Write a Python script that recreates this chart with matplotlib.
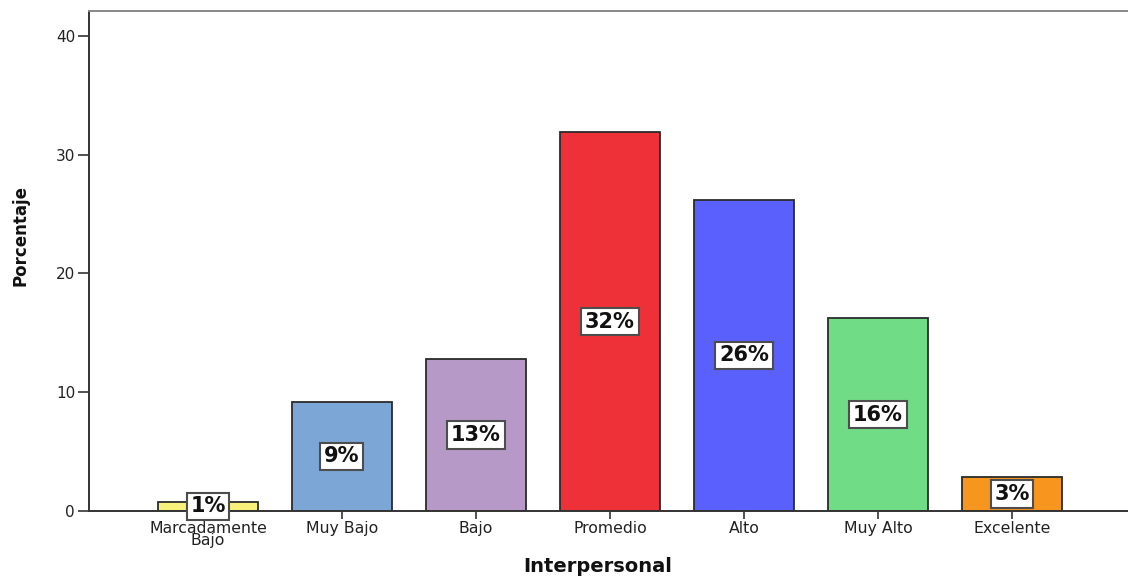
import matplotlib
matplotlib.use("Agg")
import matplotlib.pyplot as plt
import numpy as np

# Interpersonal level distribution (percent of respondents)
categories = ["Marcadamente\nBajo", "Muy Bajo", "Bajo", "Promedio", "Alto", "Muy Alto", "Excelente"]
percentages = [0.76, 9.18, 12.8, 31.9, 26.2, 16.25, 2.86]
bar_colors = ["#F8F27A", "#7BA6D5", "#B799C8", "#EE3139", "#5A60FC", "#70DC85", "#F7961E"]
y_ticks = [0, 10, 20, 30, 40]

fig = plt.figure(figsize=(11.28, 5.79), dpi=100)
ax = fig.add_axes([89 / 1128, 1 - 511 / 579, 1 - 89 / 1128, (511 - 11) / 579])

x = np.arange(len(categories))
ax.bar(x, percentages, width=0.746, color=bar_colors, edgecolor="#2b2b2b",
       linewidth=1.3, zorder=2)

# value labels in white boxes at mid-height of each bar
for xi, v in zip(x, percentages):
    ax.text(xi, v / 2, f"{round(v):.0f}%", ha="center", va="center",
            fontsize=15, fontweight="bold", family="DejaVu Sans", color="#111111",
            zorder=4,
            bbox=dict(boxstyle="square,pad=0.18", facecolor="white",
                      edgecolor="#4d4d4d", linewidth=1.5))

ax.set_xlim(-0.888, 6.866)
ax.set_ylim(0, 42.1)
ax.set_xticks(x)
ax.set_xticklabels(categories, fontsize=11.3, color="#222222", linespacing=0.75)
ax.set_yticks(y_ticks)
ax.set_yticklabels([str(t) for t in y_ticks], fontsize=11, color="#222222")

ax.tick_params(axis="y", direction="out", length=8, width=1.2, color="#333333", pad=2)
ax.tick_params(axis="x", direction="out", length=6, width=1.2, color="#333333", pad=1)

for side in ["left", "bottom"]:
    ax.spines[side].set_color("#333333")
    ax.spines[side].set_linewidth(1.4)
ax.spines["top"].set_color("#888888")
ax.spines["top"].set_linewidth(1.4)
ax.spines["right"].set_visible(False)

fig.text(21 / 1128, 1 - 236 / 579, "Porcentaje", rotation=90, ha="center", va="center",
         fontsize=12, fontweight="bold",
         family=["Liberation Sans Narrow", "DejaVu Sans Condensed", "DejaVu Sans"],
         color="#111111")
fig.text(598 / 1128, 1 - 567 / 579, "Interpersonal", ha="center", va="center",
         fontsize=14, fontweight="bold", family="DejaVu Sans", color="#111111")

fig.savefig("out.png", dpi=100)
